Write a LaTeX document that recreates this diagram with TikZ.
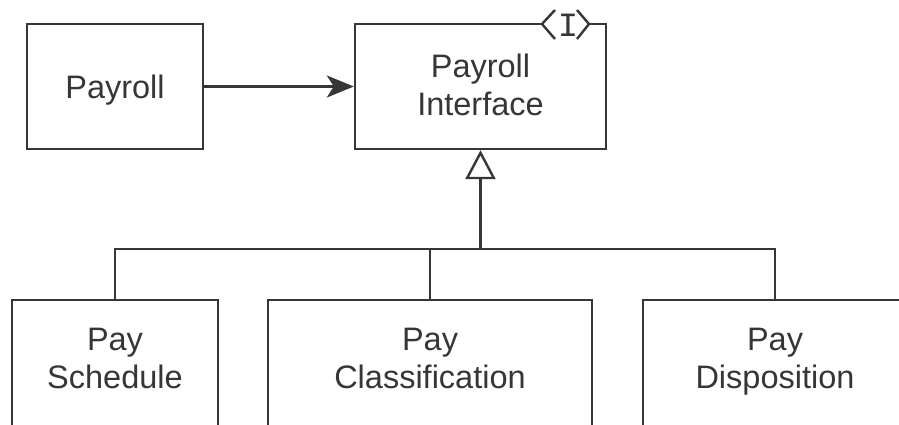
\documentclass[tikz,border=0pt]{standalone}
\usepackage{fontspec}
\setmainfont{Liberation Sans}
\setmonofont{Liberation Mono}
\usetikzlibrary{arrows.meta,positioning}
\definecolor{umlgray}{HTML}{363636}

\begin{document}
\begin{tikzpicture}[
        x=1pt, y=-1pt,
        color=umlgray,
        line width=2.4pt,
        every node/.style={align=center, inner sep=0pt, font=\fontsize{32.5}{38}\selectfont},
        classbox/.style={draw, text height=23pt, minimum height=125pt},
        lowbox/.style={draw, text height=61pt, text depth=25pt, minimum height=140pt}
    ]
    \useasboundingbox (0,0) rectangle (899,424);
    \clip (0,0) rectangle (899,424);

    % Nodes
    \node (payroll) [classbox, minimum width=176pt, text depth=0pt] at (115,86.5) {Payroll};

    \node (iface) [classbox, minimum width=251pt, text height=61pt, text depth=4pt] at (480.5,86.5) {Payroll\\Interface};

    \node (sched) [lowbox, minimum width=206pt] at (115,370) {Pay\\Schedule};
    \node (class) [lowbox, minimum width=324pt] at (430,370) {Pay\\Classification};
    \node (disp) [lowbox, minimum width=264pt] at (775,370) {Pay\\Disposition};

    % interface mark
    \fill[white] (541,19) rectangle (590,29);
    \draw[line join=miter] (555,10) -- (542,24) -- (555,39);
    \draw[line join=miter] (577,10) -- (589,24) -- (577,39);
    \node (imark) [font=\fontsize{34}{34}\selectfont\ttfamily] at (568,25) {I};

    % Edges
    \coordinate (bus) at (480.5,249);
    \draw[-{Stealth[length=27pt,width=22pt,inset=7pt]}] (payroll) -- (iface);
    \draw[-{Triangle[open,length=29pt,width=30pt]}] (bus) -- (iface.south);
    \draw (sched.north) |- (bus) -| (disp.north);
    \draw (class.north) |- (bus);

\end{tikzpicture}
\end{document}
